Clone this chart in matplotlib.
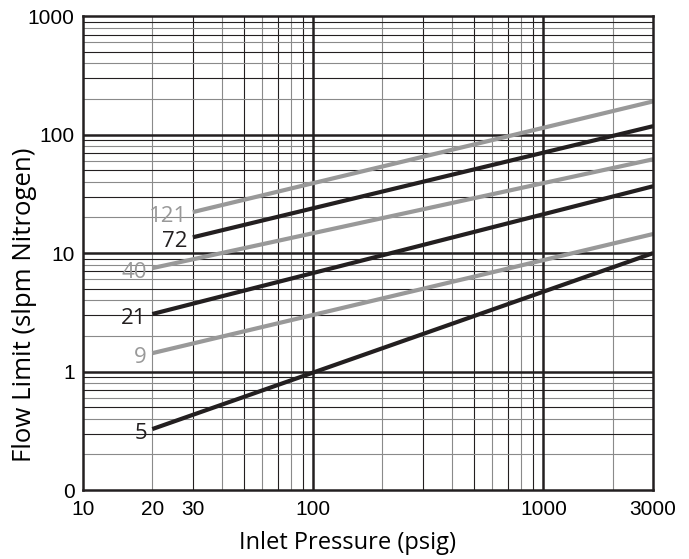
import matplotlib
matplotlib.use('Agg')
from matplotlib import pyplot as plt
import numpy as np

# curve data (log-log straight lines)
labels = ['5', '9', '21', '40', '72', '121']
x_start = [20, 20, 20, 20, 30, 30]
x_end = [3000, 3000, 3000, 3000, 3000, 3000]
y_start = [0.327, 1.43, 3.06, 7.47, 13.6, 22.2]
y_end = [10, 14.5, 36.7, 62, 118, 191]
shades = ['dark', 'light', 'dark', 'light', 'dark', 'light']

x_ticks = [10, 20, 30, 100, 1000, 3000]
x_ticklabels = ['10', '20', '30', '100', '1000', '3000']
y_ticks = [0.1, 1, 10, 100, 1000]
y_ticklabels = ['0', '1', '10', '100', '1000']

BLACK = '#231f20'
GRAY = '#999999'
GRID_GRAY = '#8a8a8a'

fig = plt.figure(figsize=(6.89, 5.59), dpi=100)
ax = fig.add_axes([0.1205, 0.1234, 0.8275, 0.8476])
ax.set_xscale('log')
ax.set_yscale('log')
ax.set_xlim(10, 3000)
ax.set_ylim(0.1, 1000)

# grid: thick black decades, thin minor lines alternating gray / black
for dec in [10, 100, 1000]:
    for m in range(2, 10):
        v = dec * m
        if v >= 3000:
            break
        c = GRID_GRAY if m % 2 == 0 else BLACK
        ax.axvline(v, color=c, lw=0.8, zorder=1)
for dec in [0.1, 1, 10, 100]:
    for m in range(2, 10):
        c = GRID_GRAY if m % 2 == 0 else BLACK
        ax.axhline(dec * m, color=c, lw=0.8, zorder=1)
for v in [100, 1000]:
    ax.axvline(v, color=BLACK, lw=1.8, zorder=2)
for v in [1, 10, 100]:
    ax.axhline(v, color=BLACK, lw=1.8, zorder=2)

for lab, x0, x1, y0, y1, s in zip(labels, x_start, x_end, y_start, y_end, shades):
    c = BLACK if s == 'dark' else GRAY
    ax.plot([x0, x1], [y0, y1], color=c, lw=3.0, solid_capstyle='butt', zorder=4)
    ax.annotate(lab, (x0, y0), xytext=(-4, -3), textcoords='offset points',
                ha='right', va='center', color=c, fontsize=16,
                family='Open Sans', zorder=5)

for sp in ax.spines.values():
    sp.set_linewidth(1.8)
    sp.set_color(BLACK)
    sp.set_zorder(6)

ax.set_xticks(x_ticks)
ax.set_xticklabels(x_ticklabels)
ax.set_yticks(y_ticks)
ax.set_yticklabels(y_ticklabels)
ax.minorticks_off()
ax.tick_params(length=0, labelsize=15)
ax.tick_params(axis='x', pad=7)
ax.tick_params(axis='y', pad=6)
for t in ax.get_xticklabels() + ax.get_yticklabels():
    t.set_family('Liberation Sans')

ax.set_xlabel('Inlet Pressure (psig)', fontsize=17, family='Open Sans', va='center')
ax.set_ylabel('Flow Limit (slpm Nitrogen)', fontsize=18.5, family='Open Sans', va='center')
ax.xaxis.set_label_coords(0.463, -0.112)
ax.yaxis.set_label_coords(-0.102, 0.39)

fig.savefig('out.png', dpi=100)
